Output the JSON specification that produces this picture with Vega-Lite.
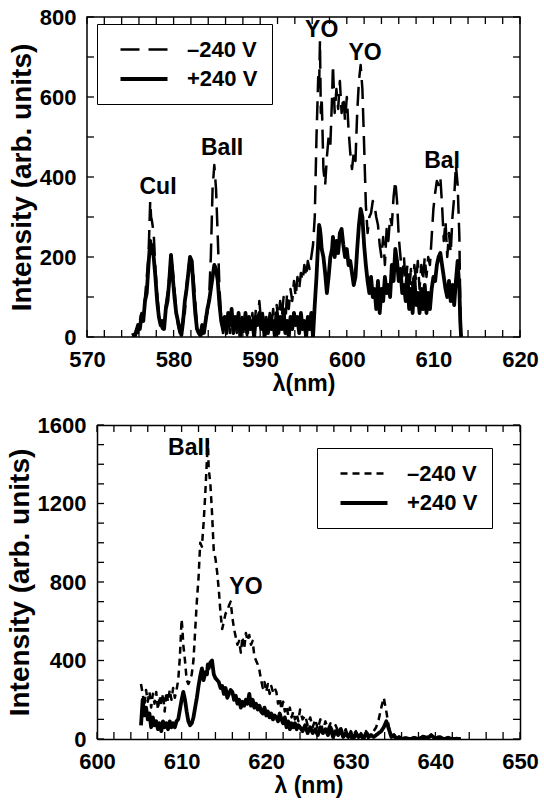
{
  "$schema": "https://vega.github.io/schema/vega-lite/v6.json",
  "padding": {"left": 6, "top": 5, "right": 3, "bottom": 2},
  "background": "white",
  "config": {
    "font": "Liberation Sans",
    "view": {"stroke": "black", "strokeWidth": 1.5},
    "axis": {
      "domain": false, "ticks": false, "tickSize": 0, "offset": 0, "grid": false,
      "labelFont": "Liberation Sans", "labelFontWeight": "bold", "labelFontSize": 22, "labelColor": "black",
      "labelFlush": false, "labelOverlap": false, "format": "d",
      "titleFont": "Liberation Sans", "titleFontWeight": "bold", "titleFontSize": 23, "titleColor": "black"
    },
    "axisY": {"titleFontSize": 28, "titlePadding": 3, "labelPadding": 11},
    "axisX": {"titlePadding": 2, "labelPadding": 12},
    "rule": {"color": "black", "strokeWidth": 1.3},
    "legend": {
      "labelFont": "Liberation Sans", "labelFontWeight": "bold", "labelFontSize": 22, "labelColor": "black",
      "strokeColor": "black", "fillColor": "white", "padding": 14,
      "symbolType": "M-2.35,0H2.35", "symbolSize": 400, "symbolStrokeColor": "black",
      "symbolOffset": 21, "labelOffset": 31, "rowPadding": 6
    }
  },
  "datasets": {
    "xt1": [{"t":570},{"t":572},{"t":574},{"t":576},{"t":578},{"t":580},{"t":582},{"t":584},{"t":586},{"t":588},{"t":590},{"t":592},{"t":594},{"t":596},{"t":598},{"t":600},{"t":602},{"t":604},{"t":606},{"t":608},{"t":610},{"t":612},{"t":614},{"t":616},{"t":618},{"t":620}],
    "yt1": [{"t":0},{"t":100},{"t":200},{"t":300},{"t":400},{"t":500},{"t":600},{"t":700},{"t":800}],
    "xt2": [{"t":600},{"t":602},{"t":604},{"t":606},{"t":608},{"t":610},{"t":612},{"t":614},{"t":616},{"t":618},{"t":620},{"t":622},{"t":624},{"t":626},{"t":628},{"t":630},{"t":632},{"t":634},{"t":636},{"t":638},{"t":640},{"t":642},{"t":644},{"t":646},{"t":648},{"t":650}],
    "yt2": [{"t":0},{"t":100},{"t":200},{"t":300},{"t":400},{"t":500},{"t":600},{"t":700},{"t":800},{"t":900},{"t":1000},{"t":1100},{"t":1200},{"t":1300},{"t":1400},{"t":1500},{"t":1600}],
    "top": [
      {"x":575.3,"a":5,"b":10},{"x":575.5,"a":0,"b":0},{"x":575.7,"a":20,"b":15},{"x":575.9,"a":10,"b":30},
      {"x":576.1,"a":40,"b":20},{"x":576.3,"a":60,"b":55},{"x":576.5,"a":45,"b":40},{"x":576.7,"a":100,"b":90},
      {"x":576.9,"a":150,"b":110},{"x":577.1,"a":200,"b":180},{"x":577.3,"a":340,"b":240},{"x":577.4,"a":300,"b":210},
      {"x":577.5,"a":290,"b":230},{"x":577.7,"a":260,"b":200},{"x":577.9,"a":170,"b":150},{"x":578.1,"a":110,"b":90},
      {"x":578.3,"a":60,"b":50},{"x":578.5,"a":30,"b":30},{"x":578.7,"a":20,"b":40},{"x":578.9,"a":40,"b":20},
      {"x":579.1,"a":80,"b":70},{"x":579.3,"a":110,"b":90},{"x":579.5,"a":150,"b":140},{"x":579.7,"a":200,"b":205},
      {"x":579.9,"a":170,"b":150},{"x":580.1,"a":120,"b":100},{"x":580.3,"a":70,"b":60},{"x":580.5,"a":30,"b":40},
      {"x":580.7,"a":10,"b":20},{"x":580.9,"a":20,"b":5},{"x":581.1,"a":50,"b":40},{"x":581.3,"a":60,"b":90},
      {"x":581.5,"a":130,"b":120},{"x":581.7,"a":170,"b":160},{"x":581.9,"a":200,"b":200},{"x":582.1,"a":180,"b":190},
      {"x":582.3,"a":150,"b":120},{"x":582.5,"a":90,"b":60},{"x":582.7,"a":30,"b":20},{"x":582.9,"a":10,"b":10},
      {"x":583.1,"a":0,"b":5},{"x":583.3,"a":10,"b":30},{"x":583.5,"a":20,"b":10},{"x":583.7,"a":50,"b":40},
      {"x":583.9,"a":60,"b":70},{"x":584.1,"a":100,"b":90},{"x":584.3,"a":200,"b":120},{"x":584.5,"a":370,"b":150},
      {"x":584.7,"a":430,"b":180},{"x":584.9,"a":370,"b":170},{"x":585.1,"a":250,"b":140},{"x":585.3,"a":120,"b":80},
      {"x":585.5,"a":50,"b":40},{"x":585.7,"a":10,"b":20},{"x":585.9,"a":40,"b":50},{"x":586.1,"a":20,"b":10},
      {"x":586.3,"a":60,"b":60},{"x":586.5,"a":10,"b":30},{"x":586.7,"a":50,"b":70},{"x":586.9,"a":30,"b":10},
      {"x":587.1,"a":60,"b":50},{"x":587.3,"a":10,"b":20},{"x":587.5,"a":55,"b":60},{"x":587.7,"a":20,"b":0},
      {"x":587.9,"a":50,"b":40},{"x":588.1,"a":10,"b":20},{"x":588.3,"a":40,"b":60},{"x":588.5,"a":0,"b":10},
      {"x":588.7,"a":50,"b":50},{"x":588.9,"a":30,"b":20},{"x":589.1,"a":60,"b":40},{"x":589.3,"a":10,"b":0},
      {"x":589.5,"a":70,"b":50},{"x":589.7,"a":30,"b":30},{"x":589.9,"a":90,"b":60},{"x":590.1,"a":40,"b":20},
      {"x":590.3,"a":60,"b":50},{"x":590.5,"a":10,"b":0},{"x":590.7,"a":50,"b":40},{"x":590.9,"a":20,"b":10},
      {"x":591.1,"a":60,"b":50},{"x":591.3,"a":30,"b":20},{"x":591.5,"a":70,"b":40},{"x":591.7,"a":20,"b":0},
      {"x":591.9,"a":80,"b":60},{"x":592.1,"a":40,"b":10},{"x":592.3,"a":90,"b":50},{"x":592.5,"a":50,"b":20},
      {"x":592.7,"a":100,"b":60},{"x":592.9,"a":30,"b":10},{"x":593.1,"a":110,"b":40},{"x":593.3,"a":70,"b":0},
      {"x":593.5,"a":120,"b":50},{"x":593.7,"a":90,"b":20},{"x":593.9,"a":140,"b":60},{"x":594.1,"a":100,"b":30},
      {"x":594.3,"a":150,"b":50},{"x":594.5,"a":120,"b":10},{"x":594.7,"a":160,"b":60},{"x":594.9,"a":140,"b":20},
      {"x":595.1,"a":180,"b":40},{"x":595.3,"a":150,"b":0},{"x":595.5,"a":190,"b":50},{"x":595.7,"a":170,"b":20},
      {"x":595.9,"a":200,"b":60},{"x":596.1,"a":230,"b":0},{"x":596.3,"a":300,"b":80},{"x":596.5,"a":500,"b":150},
      {"x":596.7,"a":650,"b":240},{"x":596.8,"a":620,"b":280},{"x":596.9,"a":740,"b":270},{"x":597.0,"a":560,"b":250},
      {"x":597.1,"a":600,"b":220},{"x":597.3,"a":420,"b":200},{"x":597.5,"a":380,"b":160},{"x":597.7,"a":450,"b":110},
      {"x":597.9,"a":500,"b":150},{"x":598.1,"a":480,"b":200},{"x":598.3,"a":600,"b":220},{"x":598.4,"a":680,"b":250},
      {"x":598.6,"a":560,"b":200},{"x":598.8,"a":620,"b":240},{"x":599.0,"a":570,"b":210},{"x":599.2,"a":640,"b":260},
      {"x":599.4,"a":560,"b":270},{"x":599.6,"a":600,"b":230},{"x":599.8,"a":540,"b":200},{"x":600.0,"a":600,"b":220},
      {"x":600.2,"a":520,"b":180},{"x":600.4,"a":460,"b":190},{"x":600.6,"a":420,"b":160},{"x":600.8,"a":460,"b":130},
      {"x":601.0,"a":440,"b":150},{"x":601.2,"a":560,"b":220},{"x":601.4,"a":640,"b":280},{"x":601.6,"a":680,"b":320},
      {"x":601.8,"a":620,"b":300},{"x":602.0,"a":480,"b":230},{"x":602.2,"a":330,"b":180},{"x":602.4,"a":260,"b":140},
      {"x":602.6,"a":300,"b":110},{"x":602.8,"a":310,"b":150},{"x":603.0,"a":340,"b":100},{"x":603.2,"a":330,"b":120},
      {"x":603.4,"a":300,"b":70},{"x":603.6,"a":280,"b":140},{"x":603.8,"a":230,"b":60},{"x":604.0,"a":200,"b":120},
      {"x":604.2,"a":250,"b":90},{"x":604.4,"a":180,"b":150},{"x":604.6,"a":270,"b":110},{"x":604.8,"a":240,"b":130},
      {"x":605.0,"a":300,"b":100},{"x":605.2,"a":280,"b":180},{"x":605.4,"a":350,"b":140},{"x":605.6,"a":390,"b":220},
      {"x":605.8,"a":340,"b":190},{"x":606.0,"a":250,"b":140},{"x":606.2,"a":200,"b":170},{"x":606.4,"a":150,"b":110},
      {"x":606.6,"a":200,"b":130},{"x":606.8,"a":130,"b":90},{"x":607.0,"a":180,"b":140},{"x":607.2,"a":110,"b":70},
      {"x":607.4,"a":170,"b":120},{"x":607.6,"a":120,"b":60},{"x":607.8,"a":180,"b":150},{"x":608.0,"a":140,"b":80},
      {"x":608.2,"a":190,"b":110},{"x":608.4,"a":120,"b":60},{"x":608.6,"a":180,"b":120},{"x":608.8,"a":140,"b":70},
      {"x":609.0,"a":200,"b":130},{"x":609.2,"a":150,"b":60},{"x":609.4,"a":200,"b":110},{"x":609.6,"a":180,"b":70},
      {"x":609.8,"a":250,"b":120},{"x":610.0,"a":320,"b":150},{"x":610.2,"a":360,"b":140},{"x":610.4,"a":390,"b":180},
      {"x":610.6,"a":380,"b":200},{"x":610.8,"a":400,"b":210},{"x":611.0,"a":330,"b":180},{"x":611.2,"a":240,"b":150},
      {"x":611.4,"a":290,"b":120},{"x":611.6,"a":200,"b":100},{"x":611.8,"a":260,"b":140},{"x":612.0,"a":210,"b":90},
      {"x":612.2,"a":300,"b":130},{"x":612.4,"a":350,"b":80},{"x":612.6,"a":430,"b":140},{"x":612.8,"a":380,"b":190},
      {"x":613.0,"a":250,"b":120},{"x":613.1,"a":80,"b":40},{"x":613.2,"a":0,"b":0}
    ],
    "bot": [
      {"x":605.2,"a":280,"b":70},{"x":605.4,"a":230,"b":200},{"x":605.6,"a":170,"b":120},{"x":605.8,"a":250,"b":160},
      {"x":606.0,"a":190,"b":100},{"x":606.2,"a":240,"b":130},{"x":606.4,"a":160,"b":60},{"x":606.6,"a":230,"b":110},
      {"x":606.8,"a":180,"b":70},{"x":607.0,"a":240,"b":90},{"x":607.2,"a":150,"b":50},{"x":607.4,"a":220,"b":80},
      {"x":607.6,"a":170,"b":40},{"x":607.8,"a":230,"b":90},{"x":608.0,"a":140,"b":60},{"x":608.2,"a":240,"b":80},
      {"x":608.4,"a":190,"b":50},{"x":608.6,"a":250,"b":90},{"x":608.8,"a":200,"b":60},{"x":609.0,"a":260,"b":80},
      {"x":609.2,"a":210,"b":60},{"x":609.4,"a":250,"b":90},{"x":609.6,"a":300,"b":100},{"x":609.8,"a":420,"b":150},
      {"x":610.0,"a":610,"b":200},{"x":610.1,"a":560,"b":220},{"x":610.2,"a":480,"b":240},{"x":610.4,"a":400,"b":200},
      {"x":610.6,"a":300,"b":140},{"x":610.8,"a":280,"b":90},{"x":611.0,"a":300,"b":70},{"x":611.2,"a":330,"b":80},
      {"x":611.4,"a":400,"b":110},{"x":611.6,"a":550,"b":160},{"x":611.8,"a":700,"b":210},{"x":612.0,"a":820,"b":270},
      {"x":612.2,"a":1000,"b":320},{"x":612.4,"a":980,"b":360},{"x":612.6,"a":1100,"b":300},{"x":612.8,"a":1250,"b":340},
      {"x":613.0,"a":1430,"b":330},{"x":613.1,"a":1520,"b":380},{"x":613.2,"a":1380,"b":360},{"x":613.4,"a":1300,"b":390},
      {"x":613.6,"a":1150,"b":400},{"x":613.8,"a":960,"b":330},{"x":614.0,"a":920,"b":310},{"x":614.2,"a":850,"b":300},
      {"x":614.4,"a":760,"b":290},{"x":614.6,"a":640,"b":260},{"x":614.8,"a":560,"b":270},{"x":615.0,"a":600,"b":230},
      {"x":615.2,"a":640,"b":260},{"x":615.4,"a":650,"b":210},{"x":615.6,"a":680,"b":230},{"x":615.8,"a":700,"b":250},
      {"x":616.0,"a":620,"b":240},{"x":616.2,"a":560,"b":200},{"x":616.4,"a":520,"b":220},{"x":616.6,"a":480,"b":180},
      {"x":616.8,"a":500,"b":200},{"x":617.0,"a":440,"b":160},{"x":617.2,"a":520,"b":190},{"x":617.4,"a":460,"b":170},
      {"x":617.6,"a":540,"b":200},{"x":617.8,"a":500,"b":180},{"x":618.0,"a":530,"b":230},{"x":618.2,"a":480,"b":170},
      {"x":618.4,"a":500,"b":200},{"x":618.6,"a":420,"b":160},{"x":618.8,"a":400,"b":180},{"x":619.0,"a":380,"b":150},
      {"x":619.2,"a":350,"b":170},{"x":619.4,"a":300,"b":140},{"x":619.6,"a":260,"b":130},{"x":619.8,"a":290,"b":160},
      {"x":620.0,"a":240,"b":120},{"x":620.2,"a":280,"b":140},{"x":620.4,"a":230,"b":110},{"x":620.6,"a":270,"b":130},
      {"x":620.8,"a":240,"b":100},{"x":621.0,"a":260,"b":120},{"x":621.2,"a":240,"b":110},{"x":621.4,"a":180,"b":90},
      {"x":621.6,"a":210,"b":130},{"x":621.8,"a":150,"b":100},{"x":622.0,"a":190,"b":80},{"x":622.2,"a":140,"b":110},
      {"x":622.4,"a":170,"b":60},{"x":622.6,"a":120,"b":90},{"x":622.8,"a":160,"b":50},{"x":623.0,"a":110,"b":80},
      {"x":623.2,"a":140,"b":60},{"x":623.4,"a":100,"b":80},{"x":623.6,"a":130,"b":50},{"x":623.8,"a":90,"b":70},
      {"x":624.0,"a":150,"b":60},{"x":624.3,"a":100,"b":40},{"x":624.6,"a":120,"b":70},{"x":624.9,"a":70,"b":30},
      {"x":625.2,"a":110,"b":60},{"x":625.5,"a":60,"b":30},{"x":625.8,"a":100,"b":50},{"x":626.1,"a":50,"b":20},
      {"x":626.4,"a":100,"b":60},{"x":626.7,"a":40,"b":30},{"x":627.0,"a":90,"b":50},{"x":627.3,"a":50,"b":20},
      {"x":627.6,"a":80,"b":60},{"x":627.9,"a":30,"b":10},{"x":628.2,"a":70,"b":40},{"x":628.5,"a":40,"b":20},
      {"x":628.8,"a":60,"b":50},{"x":629.1,"a":20,"b":10},{"x":629.4,"a":50,"b":30},{"x":629.7,"a":10,"b":10},
      {"x":630.0,"a":40,"b":30},{"x":630.3,"a":20,"b":0},{"x":630.6,"a":40,"b":30},{"x":630.9,"a":10,"b":10},
      {"x":631.2,"a":30,"b":20},{"x":631.5,"a":10,"b":0},{"x":631.8,"a":40,"b":30},{"x":632.1,"a":20,"b":10},
      {"x":632.4,"a":30,"b":20},{"x":632.7,"a":40,"b":10},{"x":633.0,"a":60,"b":20},{"x":633.3,"a":100,"b":30},
      {"x":633.6,"a":160,"b":40},{"x":633.9,"a":210,"b":60},{"x":634.2,"a":140,"b":90},{"x":634.5,"a":60,"b":50},
      {"x":634.8,"a":20,"b":10},{"x":635.1,"a":10,"b":20},{"x":635.4,"a":0,"b":0},{"x":635.7,"a":10,"b":10},
      {"x":636.0,"a":0,"b":0},{"x":636.5,"a":5,"b":5},{"x":637.0,"a":0,"b":0},{"x":637.5,"a":10,"b":5},
      {"x":638.0,"a":0,"b":0},{"x":638.5,"a":15,"b":10},{"x":639.0,"a":10,"b":0},{"x":639.5,"a":20,"b":20},
      {"x":640.0,"a":5,"b":0},{"x":640.5,"a":15,"b":10},{"x":641.0,"a":0,"b":0},{"x":641.5,"a":10,"b":5},
      {"x":642.0,"a":0,"b":0},{"x":642.5,"a":5,"b":0},{"x":643.0,"a":0,"b":0}
    ],
    "topLabels": [
      {"x":578.2,"v":375,"t":"CuI"},{"x":585.6,"v":472,"t":"BaII"},{"x":597.1,"v":768,"t":"YO"},
      {"x":602.1,"v":710,"t":"YO"},{"x":611.0,"v":440,"t":"BaI"}
    ],
    "botLabels": [
      {"x":610.9,"v":1483,"t":"BaII"},{"x":617.6,"v":775,"t":"YO"}
    ]
  },
  "concat": [
    {
      "width": 433, "height": 320,
      "layer": [
        {
          "data": {"name": "top"},
          "transform": [{"fold": ["a", "b"], "as": ["k", "v"]}],
          "mark": {"type": "line", "color": "black", "strokeJoin": "round", "clip": true},
          "encoding": {
            "x": {"field": "x", "type": "quantitative", "title": "λ(nm)",
                  "scale": {"domain": [570, 620], "nice": false, "zero": false},
                  "axis": {"labelOverlap": false,
                           "values": [570,572,574,576,578,580,582,584,586,588,590,592,594,596,598,600,602,604,606,608,610,612,614,616,618,620],
                           "labelExpr": "datum.value % 10 === 0 ? datum.label : ''"}},
            "y": {"field": "v", "type": "quantitative", "title": "Intensity (arb. units)",
                  "scale": {"domain": [0, 800], "nice": false},
                  "axis": {"labelOverlap": false,
                           "values": [0,100,200,300,400,500,600,700,800],
                           "labelExpr": "datum.value % 200 === 0 ? datum.label : ''"}},
            "strokeDash": {"field": "k", "type": "nominal",
                           "scale": {"domain": ["a", "b"], "range": [[19, 9], [1, 0]]},
                           "legend": {"title": null, "orient": "none", "legendX": 10, "legendY": 7,
                                      "labelExpr": "datum.label == 'a' ? '–240 V' : '+240 V'"}},
            "strokeWidth": {"field": "k", "type": "nominal",
                            "scale": {"domain": ["a", "b"], "range": [2.5, 3.8]},
                            "legend": {"title": null, "orient": "none", "legendX": 10, "legendY": 7,
                                       "labelExpr": "datum.label == 'a' ? '–240 V' : '+240 V'"}}
          }
        },
        {
          "data": {"name": "topLabels"},
          "mark": {"type": "text", "font": "Liberation Sans", "fontWeight": "bold", "fontSize": 23, "color": "black", "align": "center", "baseline": "middle"},
          "encoding": {
            "x": {"field": "x", "type": "quantitative", "axis": null, "scale": {"domain": [570, 620], "nice": false, "zero": false}},
            "y": {"field": "v", "type": "quantitative", "axis": null, "scale": {"domain": [0, 800], "nice": false}},
            "text": {"field": "t"}
          }
        },
        {
          "data": {"name": "xt1"},
          "mark": "rule",
          "encoding": {
            "x": {"field": "t", "type": "quantitative", "axis": null},
            "y": {"datum": 0, "type": "quantitative", "axis": null},
            "y2": {"datum": 17.5}
          }
        },
        {
          "data": {"name": "xt1"},
          "mark": "rule",
          "encoding": {
            "x": {"field": "t", "type": "quantitative", "axis": null},
            "y": {"datum": 782.5, "type": "quantitative", "axis": null},
            "y2": {"datum": 800}
          }
        },
        {
          "data": {"name": "yt1"},
          "mark": "rule",
          "encoding": {
            "y": {"field": "t", "type": "quantitative", "axis": null},
            "x": {"datum": 570, "type": "quantitative", "axis": null},
            "x2": {"datum": 570.81}
          }
        },
        {
          "data": {"name": "yt1"},
          "mark": "rule",
          "encoding": {
            "y": {"field": "t", "type": "quantitative", "axis": null},
            "x": {"datum": 619.19, "type": "quantitative", "axis": null},
            "x2": {"datum": 620}
          }
        }
      ],
      "resolve": {"axis": {"x": "independent", "y": "independent"}}
    },
    {
      "width": 433, "height": 314,
      "view": {"stroke": null},
      "layer": [
        {
          "data": {"name": "bot"},
          "transform": [{"fold": ["a", "b"], "as": ["k", "v"]}],
          "mark": {"type": "line", "color": "black", "strokeJoin": "round", "clip": true},
          "encoding": {
            "x": {"field": "x", "type": "quantitative", "title": "λ (nm)",
                  "scale": {"domain": [600, 650], "range": [10, 433], "nice": false, "zero": false},
                  "axis": {"titleX": 221.5, "labelOverlap": false,
                           "domain": true, "domainColor": "black", "domainWidth": 1.5,
                           "values": [600,602,604,606,608,610,612,614,616,618,620,622,624,626,628,630,632,634,636,638,640,642,644,646,648,650],
                           "labelExpr": "datum.value % 10 === 0 ? datum.label : ''"}},
            "y": {"field": "v", "type": "quantitative", "title": "Intensity (arb. units)",
                  "scale": {"domain": [0, 1600], "nice": false},
                  "axis": {"offset": -10, "labelOverlap": false,
                           "domain": true, "domainColor": "black", "domainWidth": 1.5,
                           "values": [0,100,200,300,400,500,600,700,800,900,1000,1100,1200,1300,1400,1500,1600],
                           "labelExpr": "datum.value % 400 === 0 ? datum.label : ''"}},
            "strokeDash": {"field": "k", "type": "nominal",
                           "scale": {"domain": ["a", "b"], "range": [[7, 5], [1, 0]]},
                           "legend": {"title": null, "orient": "none", "legendX": 230, "legendY": 23,
                                      "labelExpr": "datum.label == 'a' ? '–240 V' : '+240 V'"}},
            "strokeWidth": {"field": "k", "type": "nominal",
                            "scale": {"domain": ["a", "b"], "range": [2.5, 3.8]},
                            "legend": {"title": null, "orient": "none", "legendX": 230, "legendY": 23,
                                       "labelExpr": "datum.label == 'a' ? '–240 V' : '+240 V'"}}
          }
        },
        {
          "data": {"name": "botLabels"},
          "mark": {"type": "text", "font": "Liberation Sans", "fontWeight": "bold", "fontSize": 23, "color": "black", "align": "center", "baseline": "middle"},
          "encoding": {
            "x": {"field": "x", "type": "quantitative", "title": null,
                  "scale": {"domain": [600, 650], "range": [10, 433], "nice": false, "zero": false},
                  "axis": {"orient": "top", "labels": false, "title": null,
                           "domain": true, "domainColor": "black", "domainWidth": 1.5}},
            "y": {"field": "v", "type": "quantitative", "title": null,
                  "scale": {"domain": [0, 1600], "nice": false},
                  "axis": {"orient": "right", "labels": false, "title": null,
                           "domain": true, "domainColor": "black", "domainWidth": 1.5}},
            "text": {"field": "t"}
          }
        },
        {
          "data": {"name": "xt2"},
          "mark": "rule",
          "encoding": {
            "x": {"field": "t", "type": "quantitative", "axis": null},
            "y": {"datum": 0, "type": "quantitative", "axis": null},
            "y2": {"datum": 35.7}
          }
        },
        {
          "data": {"name": "xt2"},
          "mark": "rule",
          "encoding": {
            "x": {"field": "t", "type": "quantitative", "axis": null},
            "y": {"datum": 1564.3, "type": "quantitative", "axis": null},
            "y2": {"datum": 1600}
          }
        },
        {
          "data": {"name": "yt2"},
          "mark": "rule",
          "encoding": {
            "y": {"field": "t", "type": "quantitative", "axis": null},
            "x": {"datum": 600, "type": "quantitative", "axis": null},
            "x2": {"datum": 600.83}
          }
        },
        {
          "data": {"name": "yt2"},
          "mark": "rule",
          "encoding": {
            "y": {"field": "t", "type": "quantitative", "axis": null},
            "x": {"datum": 649.17, "type": "quantitative", "axis": null},
            "x2": {"datum": 650}
          }
        }
      ],
      "resolve": {"axis": {"x": "independent", "y": "independent"}}
    }
  ],
  "columns": 1,
  "spacing": 18,
  "resolve": {
    "scale": {"strokeDash": "independent", "strokeWidth": "independent"},
    "legend": {"strokeDash": "independent", "strokeWidth": "independent"}
  }
}
